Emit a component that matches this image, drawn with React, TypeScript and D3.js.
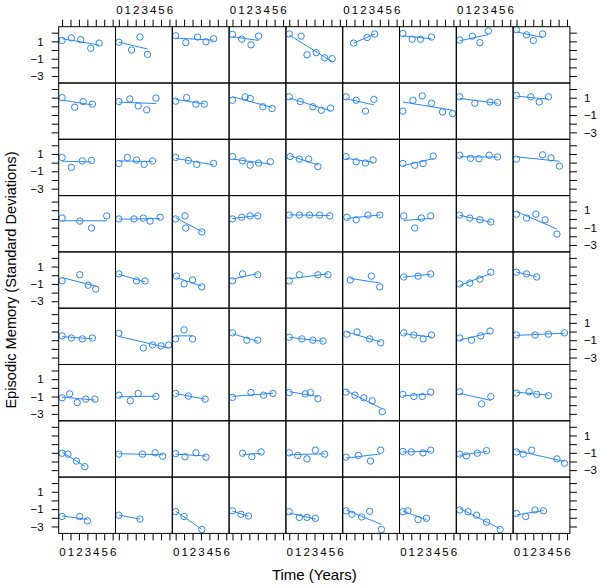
import { useEffect, useRef } from "react";
import * as d3 from "d3";

const nCols = 9;
const xTicks = [0, 1, 2, 3, 4, 5, 6];
const yTicks = [-3, -2, -1, 0, 1, 2];
const yLabels = [1, -1, -3];

// one entry per participant, panels read left to right, top to bottom
const subjectTimes: number[][] = [
  // row 1
  [0, 1.1, 2.2, 3.4, 4.4], [0, 1.5, 2.5, 3.4], [0, 1.2, 2.6, 3.6, 4.5], [0, 1.1, 2.2, 3.1], [0, 1.4, 2.1, 3.2, 4.2, 5.1],
  [0.9, 2.5, 3.4], [0, 1.1, 2.1, 3.4], [0, 1.5, 2.4, 3.4], [0, 1.2, 2.0, 3.1],
  // row 2
  [0, 1.5, 2.5, 3.6], [0, 1.3, 2.3, 3.3, 4.4], [0, 1.3, 2.4, 3.4], [0, 1.5, 2.1, 3.6, 4.7], [0, 1.3, 2.8, 3.8, 4.9],
  [0, 1.2, 2.3, 3.3], [0, 1.2, 2.3, 3.4, 4.7, 5.9], [0, 1.8, 3.6, 4.5], [0, 1.7, 2.7, 3.8],
  // row 3
  [0, 1.1, 2.4, 3.5], [0, 1.0, 2.1, 3.0, 4.0], [0, 1.5, 2.5, 4.5], [0, 1.2, 2.1, 3.1, 4.5], [0.1, 1.2, 2.3, 3.4],
  [0, 1.2, 2.3, 3.2], [0, 1.4, 2.4, 3.6], [0, 1.3, 2.3, 3.5, 4.5], [0, 3.1, 4.1, 5.1],
  // row 4
  [0, 2.1, 3.5, 5.3], [0, 1.8, 2.9, 3.7, 4.9], [0, 1.1, 1.2, 3.1], [0, 1.1, 2.1, 3.0], [0, 1.2, 2.4, 3.6, 4.8],
  [0.1, 1.2, 2.6, 4.0], [0.1, 1.4, 2.2, 3.3], [0, 1.2, 2.4, 3.7], [0, 1.2, 2.3, 3.4, 4.8],
  // row 5
  [0, 2.1, 3.1, 4.0], [0, 2.1, 3.1], [0.1, 1.0, 2.0, 3.1], [0, 1.2, 3.0], [0, 1.2, 3.4, 4.6],
  [0.5, 3.0, 4.0], [0.1, 1.8, 3.3], [0, 1.2, 2.4, 3.7], [0, 1.2, 2.4],
  // row 6
  [0, 1.1, 2.4, 3.6], [0, 2.9, 4.0, 5.0, 5.9], [0, 1.0, 2.0], [0, 1.7, 3.0], [0, 1.5, 2.8, 4.0],
  [0.1, 1.3, 2.8, 4.1], [0.1, 1.3, 2.4, 3.4], [0, 1.4, 2.5, 3.6], [0, 2.2, 3.8, 5.7],
  // row 7
  [0, 0.9, 1.8, 2.8, 3.9], [0, 1.35, 2.3, 4.4], [0, 1.5, 3.5], [0, 2.2, 3.7, 4.8], [0, 1.9, 2.5, 3.4],
  [0, 1.05, 2.1, 3.1, 4.3], [0, 1.3, 2.3, 3.3], [0, 2.6, 3.7], [0, 1.5, 2.4, 3.8],
  // row 8
  [0, 0.7, 1.7, 2.7], [0, 2.8, 4.3, 5.2], [0, 1.1, 2.4, 3.6], [1.2, 2.3, 3.4], [0, 1.0, 2.1, 3.1, 4.2],
  [0, 1.45, 2.9, 4.1], [0, 1.0, 2.4, 3.3], [0, 0.8, 2.1, 3.2], [0, 0.8, 1.8, 4.8, 5.7],
  // row 9
  [0, 2.1, 3.0], [0, 2.5], [0, 1.0, 3.1], [0, 1.0, 1.9], [0, 1.2, 2.1, 3.1],
  [0, 0.7, 1.85, 2.8, 4.2], [0, 0.6, 1.8, 2.8], [0, 1.0, 2.0, 3.2, 4.8], [0, 1.1, 2.2, 3.2],
];

const subjectScores: number[][] = [
  // row 1
  [1.1, 1.4, 1.2, 0.2, 0.8], [0.9, 0, 1.5, -0.5], [1.65, 0.85, 1.5, 0.95, 1.3], [1.8, 1.25, 0.6, 1.6], [1.85, 1.6, -0.55, -0.3, -0.9, -1.0],
  [0.8, 1.45, 1.85], [1.9, 1.25, 1.25, 1.5], [1.15, 1.6, 0.85, 2.2], [2.35, 1.75, 1.1, 1.85],
  // row 2
  [1.0, -0.1, 0.55, 0.25], [0.55, 0.85, 0.05, -0.4, 0.95], [0.6, 1.0, 0.25, 0.25], [0.7, 1.1, 0.9, -0.05, -0.25], [1.1, 0.55, -0.05, -0.45, -0.2],
  [1.1, 0.7, -0.55, 0.8], [-0.55, 0.7, 1.2, 0.35, -0.65, -0.85], [1.1, 0.35, 0.5, 0.45], [1.25, 1.1, 0.5, 1.1],
  // row 3
  [0.6, -0.55, 0.2, 0.25], [-0.1, 0.6, 0.3, -0.2, 0.2], [0.6, 0.25, -0.2, -0.1], [0.7, 0.2, -0.3, -0.05, 0.1], [0.7, 0.4, 0.4, -0.45],
  [0.7, 0.1, -0.05, 0.3], [-0.1, -0.3, -0.1, 0.75], [0.85, 0.5, 0.45, 0.85, 0.65], [0.4, 0.9, 0.55, -0.4],
  // row 4
  [0.1, -0.25, -1.05, 0.35], [0, 0, 0.1, -0.25, 0.2], [0, 0.35, -1.05, -1.5], [0, 0.2, 0.35, 0.35], [0.45, 0.45, 0.45, 0.45, 0.35],
  [0.2, -0.1, 0.45, 0.45], [0.35, -1.05, 0.1, 0.35], [0.45, 0.1, -0.1, -0.35], [0.55, 0.1, 0.55, -0.1, -1.75],
  // row 5
  [-0.65, 0.05, -1.15, -1.6], [0.15, -0.65, -0.65], [-0.1, -1.0, -0.55, -1.35], [-0.65, 0.15, 0.05], [-0.65, 0.05, 0.05, 0.05],
  [-0.55, -0.1, -1.35], [-0.2, -0.1, 0.15], [-1.0, -0.9, -0.45, 0.35], [0.35, 0.15, -0.2],
  // row 6
  [-0.5, -0.75, -0.85, -0.75], [-0.2, -1.9, -1.55, -1.65, -1.55], [-0.85, 0.2, -0.85], [-0.15, -1.0, -1.0], [-0.65, -0.85, -1.0, -1.1],
  [-0.3, -0.05, -0.85, -1.3], [-0.15, -0.4, -0.85, -0.4], [-0.75, -1.0, -0.5, 0.05], [-0.4, -0.4, -0.3, -0.15],
  // row 7
  [-1.15, -0.7, -1.7, -1.3, -1.3], [-0.85, -1.5, -0.65, -1.0], [-0.65, -0.95, -1.3], [-1.1, -0.55, -0.85, -0.65], [-0.55, -0.7, -0.55, -1.25],
  [-0.5, -0.85, -1.15, -1.5, -2.75], [-0.75, -1.0, -1.0, -0.5], [-0.45, -1.85, -1.0], [-0.6, -0.45, -0.75, -0.9],
  // row 8
  [-1.05, -1.15, -1.95, -2.6], [-1.15, -1.15, -1.0, -1.4], [-1.1, -1.45, -1.0, -1.5], [-1.05, -1.45, -0.9], [-1.0, -1.3, -1.7, -0.7, -1.15],
  [-1.5, -1.3, -1.95, -0.7], [-0.85, -0.9, -1.0, -0.7], [-1.15, -1.35, -1.05, -0.75], [-0.9, -1.15, -0.7, -1.7, -2.2],
  // row 9
  [-1.85, -1.85, -2.35], [-1.7, -2.15], [-1.3, -1.85, -3.35], [-1.2, -1.6, -1.8], [-1.3, -1.95, -1.95, -2.05],
  [-1.2, -1.6, -1.9, -1.25, -3.35], [-1.3, -1.2, -2.2, -2.05], [-1.1, -1.3, -1.7, -2.5, -3.35], [-1.5, -1.85, -1.1, -1.2],
];

export default function App() {
  const svgRef = useRef<SVGSVGElement>(null);

  useEffect(() => {
    const width = 601
    const height = 588
    const margin = { top: 26.7, left: 58.7 }
    const panelW = 56.8
    const panelH = 56.3
    const nRows = Math.ceil(subjectTimes.length / nCols)
    const blue = "#2b87f3"
    const font = "'Liberation Sans', Arial, Helvetica, sans-serif"

    const svg = d3.select(svgRef.current)
      .attr("width", width)
      .attr("height", height)
      .html(null)

    const x = d3.scaleLinear().domain([-0.4, 6.34]).range([0, panelW])
    const y = d3.scaleLinear().domain([-3.8, 2.69]).range([panelH, 0])
    const fmt = (d: number) => (d < 0 ? `\u2212${Math.abs(d)}` : `${d}`)

    svg.append("rect").attr("width", width).attr("height", height).attr("fill", "#fff")

    svg.append("defs").append("clipPath")
      .attr("id", "panel-clip")
      .append("rect")
      .attr("width", panelW)
      .attr("height", panelH)

    const line = d3.line<[number, number]>()
      .x(d => x(d[0]))
      .y(d => y(d[1]))

    subjectTimes.forEach((times, i) => {
      const row = Math.floor(i / nCols)
      const col = i % nCols
      const scores = subjectScores[i]
      const g = svg.append("g")
        .attr("transform", `translate(${margin.left + col * panelW},${margin.top + row * panelH})`)
      const plot = g.append("g").attr("clip-path", "url(#panel-clip)")

      // per-person least squares line over the observed range
      const mx = d3.mean(times) as number
      const my = d3.mean(scores) as number
      const sxy = d3.sum(times, (t, k) => (t - mx) * (scores[k] - my))
      const sxx = d3.sum(times, t => (t - mx) ** 2)
      const slope = sxx ? sxy / sxx : 0
      const ends = d3.extent(times) as [number, number]

      plot.append("path")
        .datum(ends.map(t => [t, my + slope * (t - mx)] as [number, number]))
        .attr("fill", "none")
        .attr("stroke", blue)
        .attr("stroke-width", 1)
        .attr("d", line)

      plot.selectAll("circle")
        .data(times.map((t, k) => [t, scores[k]]))
        .join("circle")
        .attr("cx", d => x(d[0]))
        .attr("cy", d => y(d[1]))
        .attr("r", 3.2)
        .attr("fill", "none")
        .attr("stroke", blue)
        .attr("stroke-width", 1)

      g.append("rect")
        .attr("width", panelW)
        .attr("height", panelH)
        .attr("fill", "none")
        .attr("stroke", "#000")
        .attr("stroke-width", 1)
    })

    const styleAxis = (sel: d3.Selection<SVGGElement, unknown, null, undefined>) => {
      sel.select(".domain").remove()
      sel.selectAll("line").attr("stroke", "#000")
      sel.selectAll("text").attr("fill", "#000").style("font-family", font).style("font-size", "11.5px")
    }

    for (let col = 0; col < nCols; col++) {
      const left = margin.left + col * panelW
      svg.append("g")
        .attr("transform", `translate(${left},${margin.top})`)
        .call(d3.axisTop(x).tickValues(xTicks).tickSize(7).tickPadding(6)
          .tickFormat(d => (col % 2 === 1 ? `${d}` : "")))
        .call(styleAxis)
      svg.append("g")
        .attr("transform", `translate(${left},${margin.top + nRows * panelH})`)
        .call(d3.axisBottom(x).tickValues(xTicks).tickSize(7).tickPadding(7)
          .tickFormat(d => (col % 2 === 0 ? `${d}` : "")))
        .call(styleAxis)
    }

    for (let row = 0; row < nRows; row++) {
      const top = margin.top + row * panelH
      svg.append("g")
        .attr("transform", `translate(${margin.left},${top})`)
        .call(d3.axisLeft(y).tickValues(yTicks).tickSize(7).tickPadding(8)
          .tickFormat(d => (row % 2 === 0 && yLabels.includes(+d) ? fmt(+d) : "")))
        .call(styleAxis)
      svg.append("g")
        .attr("transform", `translate(${margin.left + nCols * panelW},${top})`)
        .call(d3.axisRight(y).tickValues(yTicks).tickSize(7).tickPadding(7)
          .tickFormat(d => (row % 2 === 1 && yLabels.includes(+d) ? fmt(+d) : "")))
        .call(styleAxis)
    }

    svg.append("text")
      .attr("x", margin.left + (nCols * panelW) / 2)
      .attr("y", 580)
      .attr("text-anchor", "middle")
      .style("font-family", font)
      .style("font-size", "15px")
      .text("Time (Years)")

    svg.append("text")
      .attr("transform", `translate(16,${margin.top + (nRows * panelH) / 2}) rotate(-90)`)
      .attr("text-anchor", "middle")
      .style("font-family", font)
      .style("font-size", "14.6px")
      .text("Episodic Memory (Standard Deviations)")
  }, []);

  return (
    <svg ref={svgRef} style={{ position: "absolute", left: 0, top: 0 }}></svg>
  );
}
